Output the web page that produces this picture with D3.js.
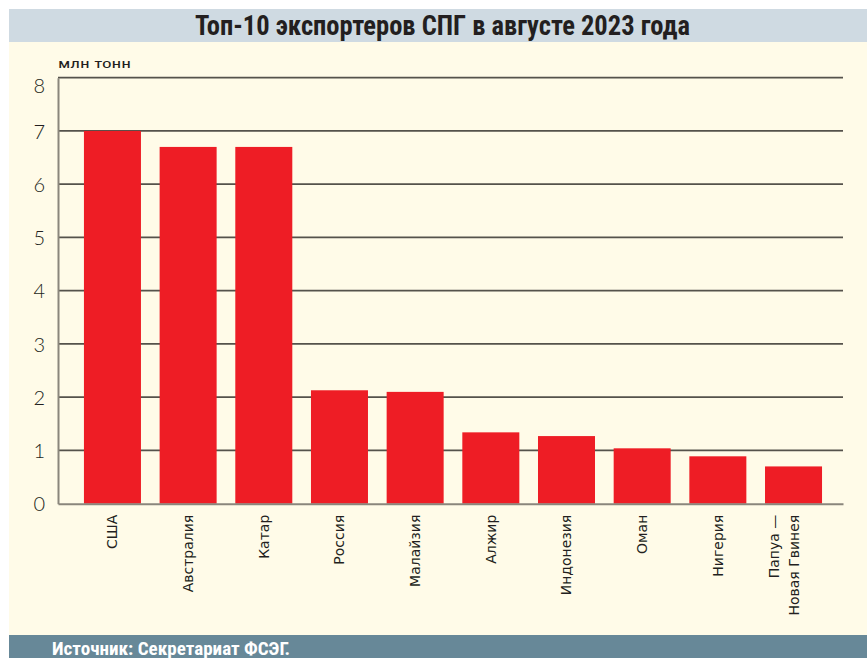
<!DOCTYPE html>
<html lang="ru">
<head>
<meta charset="utf-8">
<script src="https://cdn.jsdelivr.net/npm/d3@7"></script>
<style>
  html, body { margin: 0; padding: 0; background: #fff; }
  svg { display: block; }
</style>
</head>
<body>
<svg id="chart" width="867" height="658"></svg>
<script>
// LNG exports by country, August 2023, million tonnes
const countries = ["США", "Австралия", "Катар", "Россия", "Малайзия", "Алжир",
                   "Индонезия", "Оман", "Нигерия", "Папуа —\nНовая Гвинея"];
const lngExports = [7.0, 6.7, 6.7, 2.13, 2.1, 1.34, 1.27, 1.04, 0.89, 0.70];
const yTicks = [0, 1, 2, 3, 4, 5, 6, 7, 8];

const titleText = "Топ-10 экспортеров СПГ в августе 2023 года";
const unitText = "млн тонн";
const sourceText = "Источник: Секретариат ФСЭГ.";

const W = 867, H = 658;
const svg = d3.select("#chart");

// panels: title band, cream plot area, source band
svg.append("rect").attr("x", 9).attr("y", 9).attr("width", W - 9).attr("height", 33).attr("fill", "#cfdae2");
svg.append("rect").attr("x", 9).attr("y", 42).attr("width", W - 9).attr("height", 593).attr("fill", "#fffbe8");
svg.append("rect").attr("x", 9).attr("y", 635).attr("width", W - 9).attr("height", H - 635).attr("fill", "#678898");

const condensed = "'Liberation Sans Narrow', 'Roboto Condensed', 'Arial Narrow', sans-serif";

svg.append("text")
  .attr("x", 442.5).attr("y", 35)
  .attr("text-anchor", "middle")
  .attr("font-family", condensed)
  .attr("font-weight", "bold")
  .attr("font-size", 27)
  .attr("fill", "#231f20")
  .attr("textLength", 495).attr("lengthAdjust", "spacingAndGlyphs")
  .text(titleText);

svg.append("text")
  .attr("x", 52).attr("y", 655)
  .attr("font-family", condensed)
  .attr("font-weight", "bold")
  .attr("font-size", 18)
  .attr("fill", "#ffffff")
  .attr("textLength", 238).attr("lengthAdjust", "spacingAndGlyphs")
  .text(sourceText);

// plot geometry
const plotLeft = 58, plotRight = 843, plotTop = 77.7, plotBottom = 503.7;

const y = d3.scaleLinear().domain([0, 8]).range([plotBottom, plotTop]);
const x = d3.scaleBand()
  .domain(countries)
  .range([plotLeft, plotRight])
  .paddingInner(0.2467)
  .paddingOuter(0.31)
  .align(0.553);

// unit label
svg.append("text")
  .attr("x", 58).attr("y", 68)
  .attr("font-family", condensed)
  .attr("font-size", 13.5)
  .attr("fill", "#231f20")
  .attr("textLength", 73).attr("lengthAdjust", "spacingAndGlyphs")
  .text(unitText);

// horizontal grid
const grid = svg.append("g");
grid.selectAll("line")
  .data(yTicks.filter(d => d > 0))
  .join("line")
  .attr("x1", plotLeft).attr("x2", plotRight)
  .attr("y1", d => y(d)).attr("y2", d => y(d))
  .attr("stroke", "#55524b")
  .attr("stroke-width", 1.8);

// bars
svg.append("g").selectAll("rect")
  .data(countries.map((c, i) => ({ c, v: lngExports[i] })))
  .join("rect")
  .attr("x", d => x(d.c))
  .attr("width", x.bandwidth())
  .attr("y", d => y(d.v))
  .attr("height", d => y(0) - y(d.v))
  .attr("fill", "#ee1d25");

// y axis
const yAxis = svg.append("g")
  .attr("transform", `translate(${plotLeft},0)`)
  .call(d3.axisLeft(y).tickValues(yTicks).tickSize(0).tickPadding(13).tickFormat(d3.format("d")));
yAxis.select(".domain").attr("stroke", "#8a867c").attr("stroke-width", 2);
yAxis.selectAll(".tick text")
  .attr("font-family", "Lato, 'Open Sans', sans-serif")
  .attr("font-weight", 300)
  .attr("font-size", 20)
  .attr("fill", "#231f20")
  // keep the top label inside the frame
  .attr("dy", d => d === 8 ? "0.75em" : "0.36em");

// x axis
const xAxis = svg.append("g")
  .attr("transform", `translate(0,${plotBottom})`)
  .call(d3.axisBottom(x).tickSize(0).tickFormat(""));
xAxis.select(".domain").attr("stroke", "#8a867c").attr("stroke-width", 2);

// rotated category labels (multi-line where needed)
const labels = svg.append("g")
  .attr("font-family", "'DejaVu Sans', Verdana, sans-serif")
  .attr("font-size", 14)
  .attr("fill", "#231f20");
countries.forEach(c => {
  const lines = c.split("\n");
  const cx = x(c) + x.bandwidth() / 2;
  lines.forEach((ln, j) => {
    const off = (j - (lines.length - 1)) * 20;
    labels.append("text")
      .attr("transform", `translate(${cx + off + 5},${plotBottom + 11}) rotate(-90)`)
      .attr("text-anchor", "end")
      .text(ln);
  });
});
</script>
</body>
</html>
